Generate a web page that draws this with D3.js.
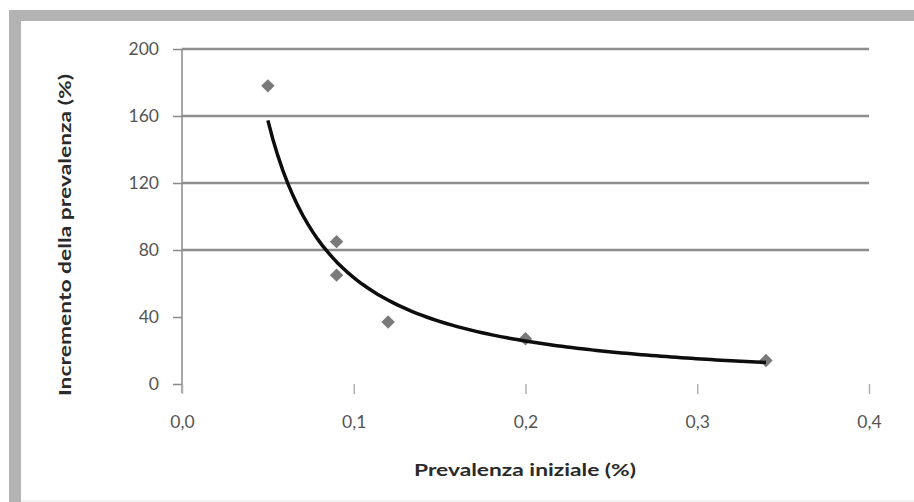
<!DOCTYPE html>
<html>
<head>
<meta charset="utf-8">
<script src="https://cdn.jsdelivr.net/npm/d3@7"></script>
<style>
  body { margin: 0; background: #fff; }
  text { font-family: Lato, "Open Sans", sans-serif; }
</style>
</head>
<body>
<div id="chart"></div>
<script>
// dati
const prevalenzaIniziale = [0.05, 0.09, 0.09, 0.12, 0.2, 0.34];
const incremento = [178, 85, 65, 37, 27, 14];
const xTicks = [0, 0.1, 0.2, 0.3, 0.4];
const yTicks = [0, 40, 80, 120, 160, 200];
const xTitle = "Prevalenza iniziale (%)";
const yTitle = "Incremento della prevalenza (%)";

const W = 914, H = 502;
const plot = {left: 182, right: 869, top: 49, bottom: 384};

const svg = d3.select("#chart")
    .append("svg")
    .attr("width", W)
    .attr("height", H);

// cornice grigia
svg.append("rect").attr("x", 9).attr("y", 10).attr("width", W - 9).attr("height", 11).attr("fill", "#b3b3b3");
svg.append("rect").attr("x", 9).attr("y", 10).attr("width", 12).attr("height", H - 10).attr("fill", "#b3b3b3");
svg.append("line").attr("x1", 21).attr("x2", W).attr("y1", 501).attr("y2", 501)
    .attr("stroke", "#e6e6e6").attr("stroke-width", 1);

// scale
const x = d3.scaleLinear().domain([0, 0.4]).range([plot.left, plot.right]);
const y = d3.scaleLinear().domain([0, 200]).range([plot.bottom, plot.top]);

// griglia orizzontale (solo le linee superiori sono visibili nell'originale)
svg.append("g")
    .selectAll("line")
    .data(yTicks.filter(d => d >= 80))
    .enter()
    .append("line")
    .attr("x1", plot.left)
    .attr("x2", plot.right)
    .attr("y1", d => y(d))
    .attr("y2", d => y(d))
    .attr("stroke", "#8e8e8e")
    .attr("stroke-width", 2.5);

// asse Y
const yAxis = d3.axisLeft(y)
    .tickValues(yTicks)
    .tickSize(9)
    .tickPadding(14)
    .tickFormat(d3.format("d"));

const yAxisGroup = svg.append("g")
    .attr("transform", `translate(${plot.left},0)`)
    .call(yAxis);
yAxisGroup.select(".domain").remove();
yAxisGroup.selectAll(".tick line").attr("stroke", "#8a8a8a").attr("stroke-width", 1.5);
yAxisGroup.selectAll(".tick text")
    .attr("fill", "#555")
    .style("font-size", "17.5px");
yAxisGroup.append("line")
    .attr("x1", 0).attr("x2", 0)
    .attr("y1", plot.top).attr("y2", plot.bottom + 9)
    .attr("stroke", "#8a8a8a").attr("stroke-width", 1.5);

// asse X
const xAxis = d3.axisBottom(x)
    .tickValues(xTicks)
    .tickSize(10)
    .tickPadding(22)
    .tickFormat(d => d3.format(".1f")(d).replace(".", ","));

const xAxisGroup = svg.append("g")
    .attr("transform", `translate(0,${plot.bottom})`)
    .call(xAxis);
xAxisGroup.select(".domain").remove();
xAxisGroup.selectAll(".tick line").attr("stroke", "#b0b0b0").attr("stroke-width", 1.5);
xAxisGroup.selectAll(".tick text")
    .attr("fill", "#555")
    .style("font-size", "17.5px");

// titoli assi
svg.append("text")
    .attr("x", 525)
    .attr("y", 476)
    .attr("text-anchor", "middle")
    .attr("fill", "#2a2a2a")
    .style("font-size", "17px")
    .style("font-weight", "bold")
    .attr("textLength", 222)
    .attr("lengthAdjust", "spacingAndGlyphs")
    .text(xTitle);

svg.append("text")
    .attr("transform", "translate(71,235) rotate(-90)")
    .attr("text-anchor", "middle")
    .attr("fill", "#2a2a2a")
    .style("font-size", "17px")
    .style("font-weight", "bold")
    .attr("textLength", 322)
    .attr("lengthAdjust", "spacingAndGlyphs")
    .text(yTitle);

// punti
const data = prevalenzaIniziale.map((v, i) => ({x: v, y: incremento[i]}));

// linea di tendenza (potenza, minimi quadrati su log-log, come Excel)
const lx = data.map(d => Math.log(d.x)), ly = data.map(d => Math.log(d.y));
const mx = d3.mean(lx), my = d3.mean(ly);
const b = d3.sum(lx, (v, i) => (v - mx) * (ly[i] - my)) / d3.sum(lx, v => (v - mx) * (v - mx));
const a = Math.exp(my - b * mx);
const [x0, x1] = d3.extent(prevalenzaIniziale);
const trend = d3.range(0, 101).map(i => {
    const xv = x0 + (x1 - x0) * i / 100;
    return {x: xv, y: a * Math.pow(xv, b)};
});

svg.selectAll(".datapoint")
    .data(data)
    .enter()
    .append("path")
    .attr("class", "datapoint")
    .attr("d", d3.symbol(d3.symbolSquare, 90))
    .attr("transform", d => `translate(${x(d.x)},${y(d.y)}) rotate(45)`)
    .attr("fill", "#7a7a7a");

const line = d3.line()
    .x(d => x(d.x))
    .y(d => y(d.y));

svg.append("path")
    .datum(trend)
    .attr("fill", "none")
    .attr("stroke", "#0d0d0d")
    .attr("stroke-width", 3.5)
    .attr("d", line);
</script>
</body>
</html>
